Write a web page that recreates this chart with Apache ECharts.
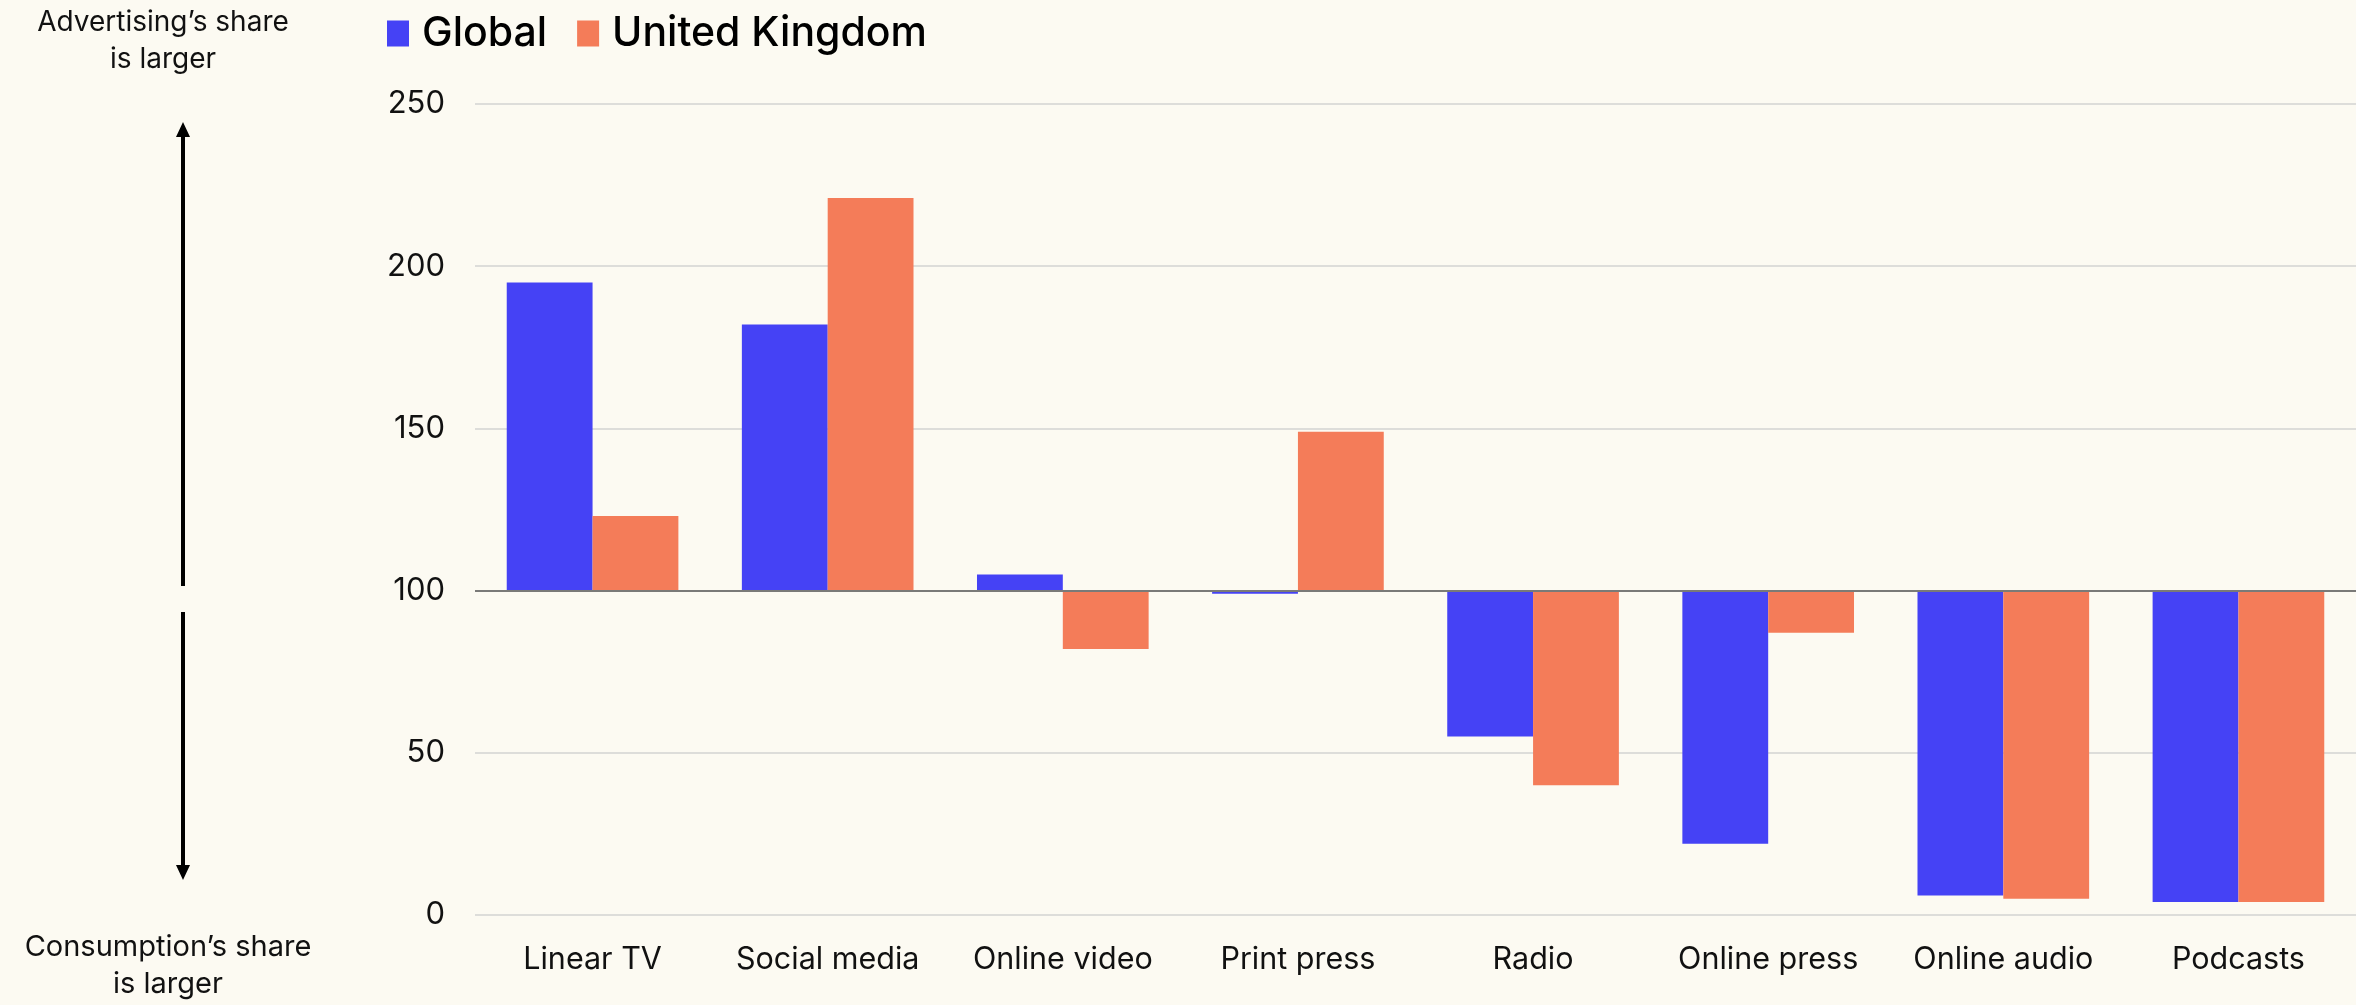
<!DOCTYPE html>
<html><head><meta charset="utf-8">
<script src="https://cdn.jsdelivr.net/npm/echarts@6/dist/echarts.min.js"></script>
<style>html,body{margin:0;padding:0;background:#FCFAF2;}#c{width:2356px;height:1005px;}</style>
</head><body><div id="c"></div>
<script>
const categories = ['Linear TV','Social media','Online video','Print press','Radio','Online press','Online audio','Podcasts'];
const globalValues = [195, 182, 105, 99, 55, 22, 6, 4];
const ukValues = [123, 221, 82, 149, 40, 87, 5, 4];
const yTicks = [0, 50, 100, 150, 200, 250];
const baseline = 100;
const seriesNames = ['Global', 'United Kingdom'];

const FONT = 'Inter, "Noto Sans", sans-serif';
const chart = echarts.init(document.getElementById('c'));
const toOffset = arr => arr.map(v => v - baseline);

chart.setOption({
  backgroundColor: '#FCFAF2',
  animation: false,
  textStyle: { fontFamily: FONT },
  legend: {
    data: seriesNames,
    left: 382, top: 8,
    itemWidth: 22, itemHeight: 26, itemGap: 30,
    icon: 'rect',
    textStyle: { fontSize: 41, fontWeight: 500, color: '#000', fontFamily: FONT, padding: [0,0,0,8] }
  },
  grid: { left: 475, right: 0, top: 104, bottom: 90 },
  xAxis: {
    type: 'category', data: categories,
    axisLine: { show: false, onZero: false }, axisTick: { show: false },
    axisLabel: { interval: 0, hideOverlap: false, fontSize: 30.5, color: '#111', margin: 29, fontFamily: FONT }
  },
  yAxis: {
    type: 'value',
    min: yTicks[0] - baseline, max: yTicks[yTicks.length - 1] - baseline, interval: 50,
    axisLabel: { fontSize: 31, color: '#111', margin: 30, fontFamily: FONT, formatter: v => String(v + baseline) },
    splitLine: { lineStyle: { color: '#DDDDDA', width: 2 } },
    axisLine: { show: false }, axisTick: { show: false }
  },
  series: [
    {
      name: seriesNames[0], type: 'bar', data: toOffset(globalValues),
      itemStyle: { color: '#4542F5' },
      barGap: '0%', barCategoryGap: '27%',
      markLine: {
        silent: true, symbol: 'none', label: { show: false },
        lineStyle: { color: '#7a7a78', width: 2, type: 'solid' },
        data: [{ yAxis: 0 }], z: 10
      }
    },
    {
      name: seriesNames[1], type: 'bar', data: toOffset(ukValues),
      itemStyle: { color: '#F47C59' },
      barGap: '0%', barCategoryGap: '27%'
    }
  ],
  graphic: [
    { type: 'text', x: 163, y: 4, style: { text: 'Advertising’s share\nis larger', font: '28px ' + FONT, fill: '#111', align: 'center', lineHeight: 37 } },
    { type: 'text', x: 168, y: 929, style: { text: 'Consumption’s share\nis larger', font: '29px ' + FONT, fill: '#111', align: 'center', lineHeight: 37 } },
    { type: 'line', shape: { x1: 183, y1: 132, x2: 183, y2: 586 }, style: { stroke: '#000', lineWidth: 4 } },
    { type: 'polygon', shape: { points: [[183,122],[176,137],[190,137]] }, style: { fill: '#000' } },
    { type: 'line', shape: { x1: 183, y1: 612, x2: 183, y2: 870 }, style: { stroke: '#000', lineWidth: 4 } },
    { type: 'polygon', shape: { points: [[183,880],[176,865],[190,865]] }, style: { fill: '#000' } }
  ]
});
</script></body></html>
